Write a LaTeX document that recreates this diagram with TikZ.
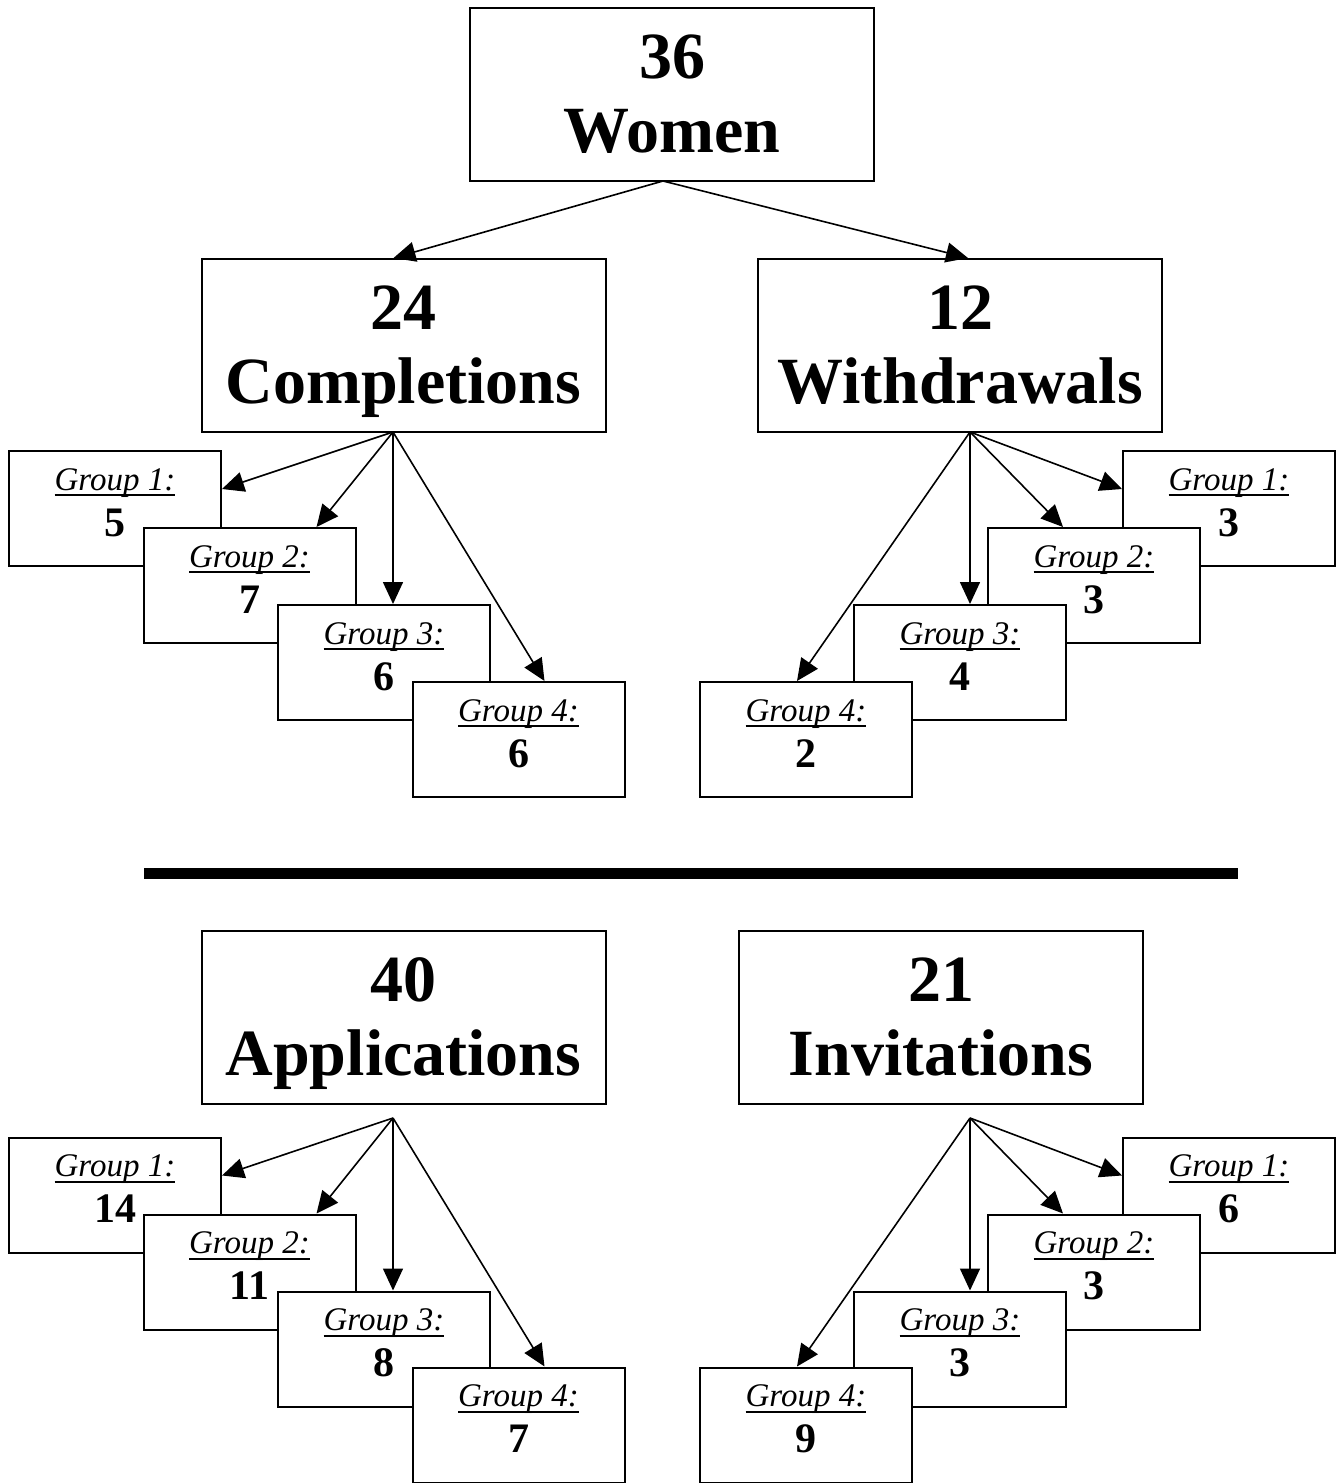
\documentclass[tikz,border=0pt]{standalone}
\usepackage{fontspec}
\setmainfont{Liberation Serif}
\usepackage{tikz}
\usetikzlibrary{arrows.meta, positioning, calc}

\newcommand{\grplabel}[1]{\setbox0=\hbox{\itshape #1}\rlap{\rule[-3pt]{\wd0}{1pt}}\box0}
\newcommand{\grpnum}[1]{{\fontsize{21}{23}\selectfont\bfseries #1}}

\begin{document}
\begin{tikzpicture}[x=0.5pt, y=-0.5pt,
  bigbox/.style={rectangle, draw, line width=1pt, fill=white, minimum width=202pt, minimum height=86.5pt, align=center, text depth=1pt, font=\fontsize{33}{37}\selectfont\bfseries},
  grpbox/.style={rectangle, draw, line width=1pt, fill=white, minimum width=106pt, minimum height=57.5pt, align=center, text depth=6pt, font=\fontsize{16.5}{23}\selectfont},
  arr/.style={-{Triangle[length=11pt, width=10pt]}, line width=0.8pt}]
\useasboundingbox (0,0) rectangle (1338,1483);

\node[bigbox] (women) at (672,94.5) {36\\Women};
\node[bigbox] (comp) at (403.5,345.5) {24\\Completions};
\node[bigbox] (withd) at (960,345.5) {12\\Withdrawals};

\coordinate (womenfork) at (663,181);
\coordinate (compfork) at (393,432);
\coordinate (withfork) at (970,432);

\draw[arr] (womenfork) -- ($(comp.north west)+(193,0)$);
\draw[arr] (womenfork) -- ($(withd.north west)+(211,0)$);

\node[grpbox] (c1) at (115,508.5) {\grplabel{Group 1:}\\\grpnum{5}};
\node[grpbox] (c2) at (249.5,585.5) {\grplabel{Group 2:}\\\grpnum{7}};
\node[grpbox] (c3) at (384,662.5) {\grplabel{Group 3:}\\\grpnum{6}};
\node[grpbox] (c4) at (518.5,739.5) {\grplabel{Group 4:}\\\grpnum{6}};

\node[grpbox] (w1) at (1229,508.5) {\grplabel{Group 1:}\\\grpnum{3}};
\node[grpbox] (w2) at (1094,585.5) {\grplabel{Group 2:}\\\grpnum{3}};
\node[grpbox] (w3) at (960,662.5) {\grplabel{Group 3:}\\\grpnum{4}};
\node[grpbox] (w4) at (806,739.5) {\grplabel{Group 4:}\\\grpnum{2}};

\draw[arr] (compfork) -- ($(c1.north east)+(0,39)$);
\draw[arr] (compfork) -- ($(c2.north west)+(174,0)$);
\draw[arr] (compfork) -- (compfork |- c3.north);
\draw[arr] (compfork) -- ($(c4.north west)+(133,0)$);

\draw[arr] (withfork) -- ($(w1.north west)+(0,39)$);
\draw[arr] (withfork) -- ($(w2.north west)+(76,0)$);
\draw[arr] (withfork) -- (withfork |- w3.north);
\draw[arr] (withfork) -- ($(w4.north west)+(98,0)$);

\draw[line width=5.5pt] (144,873) -- (1238,873);

\node[bigbox] (appl) at (403.5,1017.5) {40\\Applications};
\node[bigbox] (invit) at (941,1017.5) {21\\Invitations};

\coordinate (applfork) at (393,1118);
\coordinate (invitfork) at (970,1118);

\node[grpbox] (a1) at (115,1195) {\grplabel{Group 1:}\\\grpnum{14}};
\node[grpbox] (a2) at (249.5,1272) {\grplabel{Group 2:}\\\grpnum{11}};
\node[grpbox] (a3) at (384,1349) {\grplabel{Group 3:}\\\grpnum{8}};
\node[grpbox] (a4) at (518.5,1425) {\grplabel{Group 4:}\\\grpnum{7}};

\node[grpbox] (i1) at (1229,1195) {\grplabel{Group 1:}\\\grpnum{6}};
\node[grpbox] (i2) at (1094,1272) {\grplabel{Group 2:}\\\grpnum{3}};
\node[grpbox] (i3) at (960,1349) {\grplabel{Group 3:}\\\grpnum{3}};
\node[grpbox] (i4) at (806,1425) {\grplabel{Group 4:}\\\grpnum{9}};

\draw[arr] (applfork) -- ($(a1.north east)+(0,39)$);
\draw[arr] (applfork) -- ($(a2.north west)+(174,0)$);
\draw[arr] (applfork) -- (applfork |- a3.north);
\draw[arr] (applfork) -- ($(a4.north west)+(133,0)$);

\draw[arr] (invitfork) -- ($(i1.north west)+(0,39)$);
\draw[arr] (invitfork) -- ($(i2.north west)+(76,0)$);
\draw[arr] (invitfork) -- (invitfork |- i3.north);
\draw[arr] (invitfork) -- ($(i4.north west)+(98,0)$);
\end{tikzpicture}
\end{document}
